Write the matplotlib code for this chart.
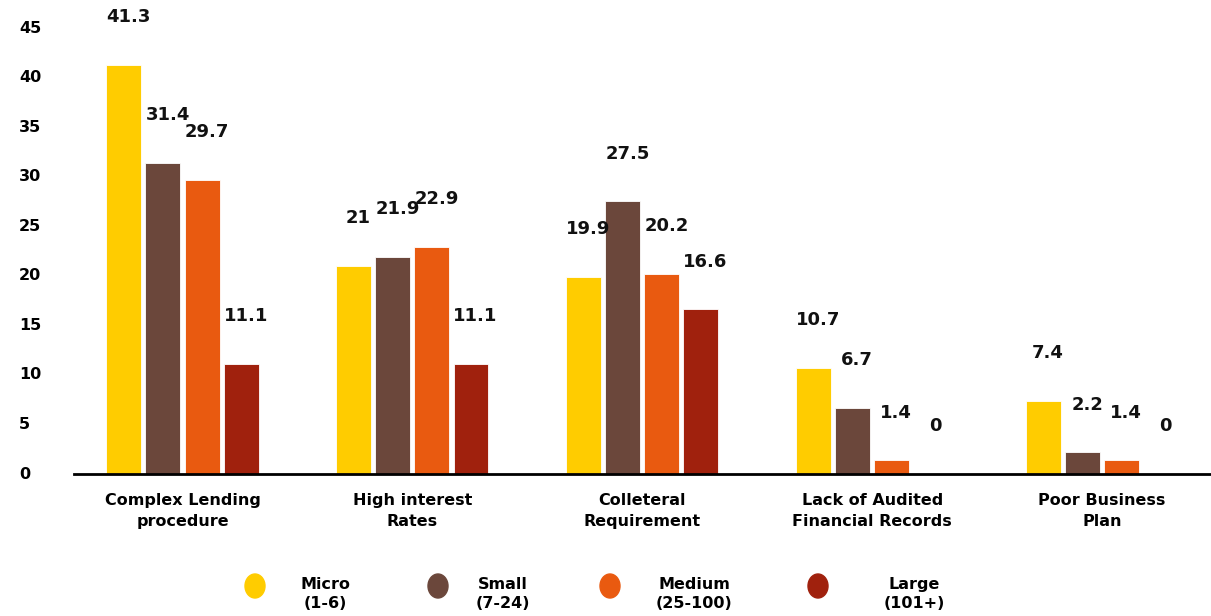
import matplotlib
matplotlib.use('Agg')
import matplotlib.pyplot as plt
import matplotlib.transforms as mtransforms
from matplotlib.patches import Ellipse
import numpy as np

# Barriers to accessing finance, % of firms by size class
categories = ['Complex Lending\nprocedure', 'High interest\nRates', 'Colleteral\nRequirement',
              'Lack of Audited\nFinancial Records', 'Poor Business\nPlan']
micro = [41.3, 21, 19.9, 10.7, 7.4]
small = [31.4, 21.9, 27.5, 6.7, 2.2]
medium = [29.7, 22.9, 20.2, 1.4, 1.4]
large = [11.1, 11.1, 16.6, 0, 0]

series_names = ['Micro\n(1-6)', 'Small\n(7-24)', 'Medium\n(25-100)', 'Large\n(101+)']
colors = ['#FFCC00', '#6B473B', '#E95A10', '#A0210D']
y_ticks = [0, 5, 10, 15, 20, 25, 30, 35, 40, 45]

W, H = 1211, 616
fig = plt.figure(figsize=(W / 100, H / 100), dpi=100)
ax = fig.add_axes([0.0611, 0.2305, 0.9389, 0.724])

x = np.arange(len(categories))
step = 0.17
width = 0.152
for i, (vals, color) in enumerate(zip([micro, small, medium, large], colors)):
    pos = x + (i - 1.5) * step
    ax.bar(pos, vals, width, color=color, edgecolor='white', linewidth=0.6)
    for px, v in zip(pos, vals):
        ax.text(px + 0.02, v + 4.8, f'{v:g}', ha='center', va='center',
                fontsize=13, fontweight='bold', color='#111111', clip_on=False)

ax.set_xlim(-0.472, 4.474)
ax.set_ylim(0, 45)

# y labels are left-aligned near the figure edge, so place them by hand
ax.set_yticks(y_ticks)
ax.set_yticklabels([])
ax.tick_params(axis='y', length=0)
ylab_tf = mtransforms.blended_transform_factory(fig.transFigure, ax.transData)
for t in y_ticks:
    ax.text(19 / W, t, str(t), transform=ylab_tf, ha='left', va='center',
            fontsize=11.5, fontweight='bold', clip_on=False)

ax.set_xticks(x)
ax.set_xticklabels(categories, fontsize=11.5, fontweight='bold', linespacing=1.45)
ax.tick_params(axis='x', length=0, pad=14)

for side in ['top', 'right', 'left']:
    ax.spines[side].set_visible(False)
ax.spines['bottom'].set_linewidth(2)
ax.spines['bottom'].set_color('black')

# legend drawn by hand: dot followed by a two-line centred label
dot_x = [255, 438, 610, 818]
text_x = [325, 503, 694, 914]
for dx, tx, name, color in zip(dot_x, text_x, series_names, colors):
    fig.add_artist(Ellipse((dx / W, 1 - 586 / H), 20 / W, 24 / H,
                           transform=fig.transFigure, color=color))
    fig.text(tx / W, 1 - 594 / H, name, ha='center', va='center',
             fontsize=11.5, fontweight='bold', linespacing=1.3)

fig.savefig('out.png', dpi=100)
